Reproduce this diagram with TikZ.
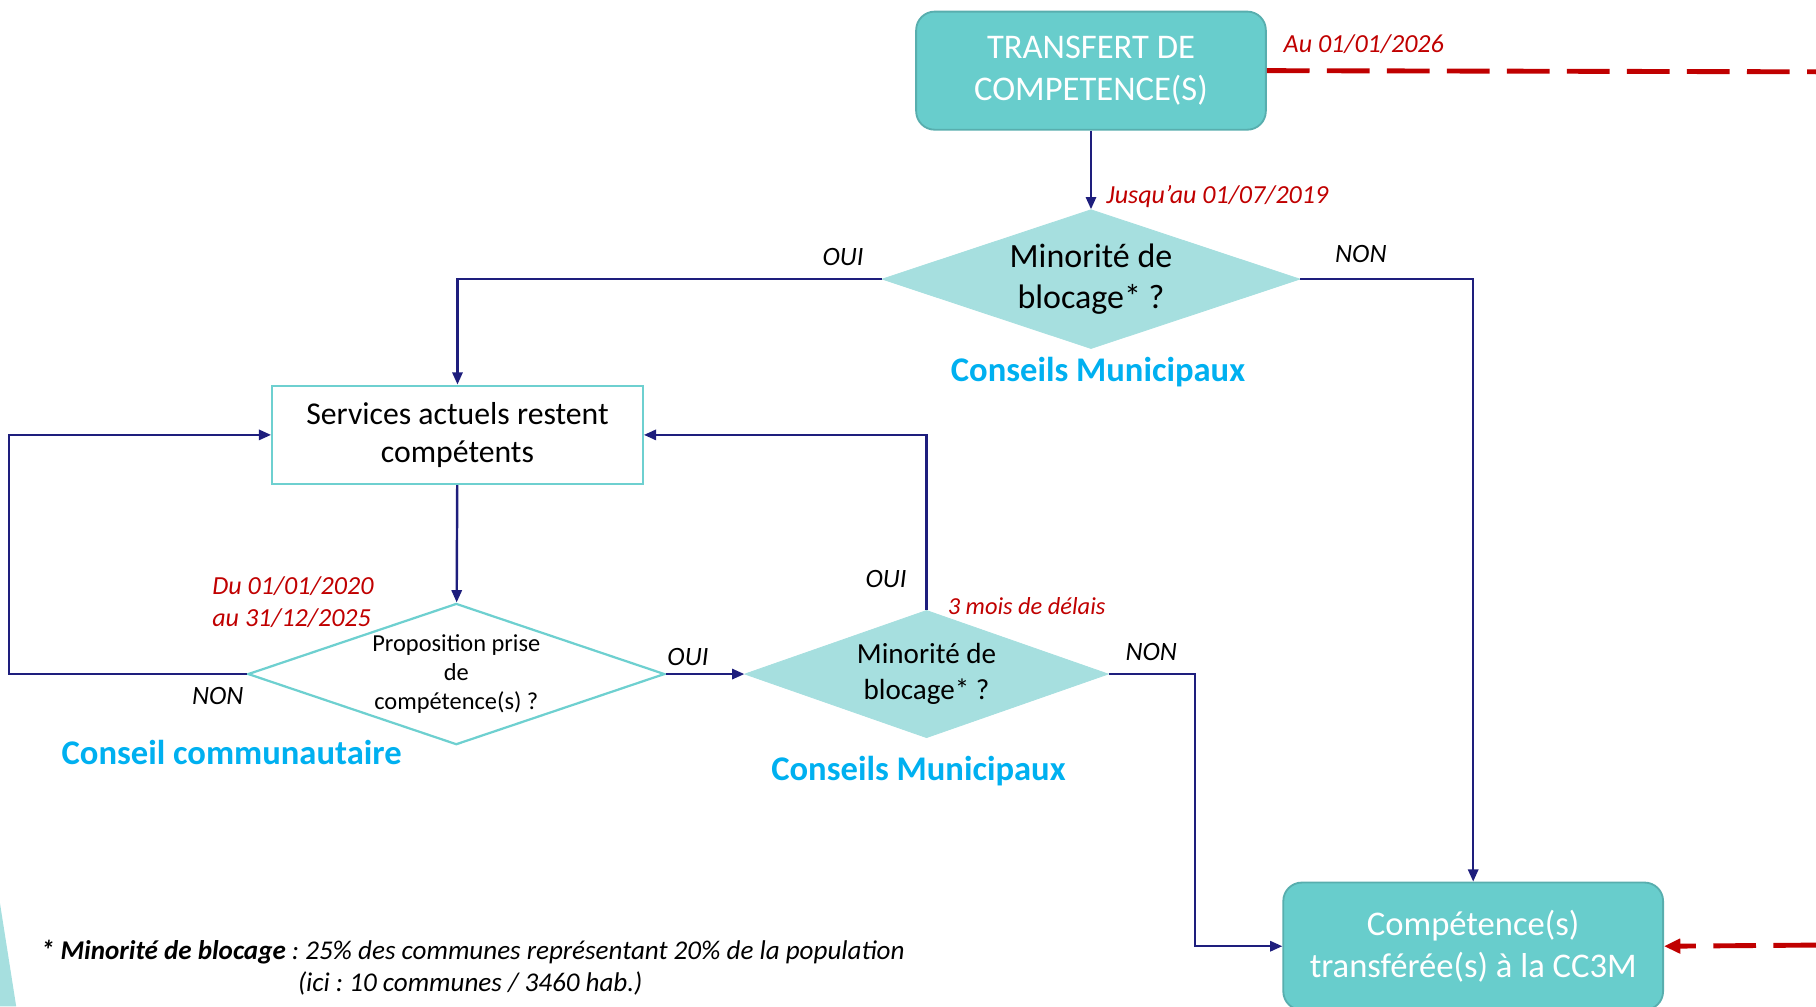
\documentclass[tikz,border=0pt]{standalone}
\usepackage{fontspec}
\setmainfont{Carlito}
\usetikzlibrary{shapes.geometric,arrows.meta}
\definecolor{boxteal}{RGB}{104,205,204}
\definecolor{boxedge}{RGB}{88,174,174}
\definecolor{diamteal}{RGB}{166,223,223}
\definecolor{edgeteal}{RGB}{110,208,208}
\definecolor{flowblue}{RGB}{30,30,125}
\definecolor{datered}{RGB}{192,0,0}
\definecolor{councilcyan}{RGB}{0,176,240}
\tikzset{
  bigbox/.style={draw=boxedge, line width=0.9pt, fill=boxteal, rounded corners=0.32cm,
    text=white, align=center, font=\fontsize{17}{20.5}\selectfont, inner sep=0pt},
  question/.style={diamond, draw=diamteal, fill=diamteal, inner sep=-3pt, align=center},
  whitebox/.style={draw=edgeteal, line width=1.1pt, fill=white, align=center, inner sep=0pt,
    font=\fontsize{15.6}{18.5}\selectfont},
  flow/.style={draw=flowblue, line width=1.2pt, -{Triangle[length=6pt,width=5pt]}},
  deadline/.style={draw=datered, line width=2.4pt, dash pattern=on 21pt off 8.5pt},
  answer/.style={font=\fontsize{13}{15}\selectfont\itshape},
  datelabel/.style={text=datered, font=\fontsize{12.8}{16}\selectfont\itshape, inner sep=0pt},
  council/.style={text=councilcyan, font=\fontsize{17}{20}\selectfont\bfseries, inner sep=0pt}
}
\newcommand{\answer}[4]{\node[answer] (#1) at (#2,#3) {#4};}
\newcommand{\council}[4]{\node[council] (#1) at (#2,#3) {#4};}

\begin{document}
\frenchspacing
\begin{tikzpicture}[x=0.02cm,y=-0.02cm]
    \clip (0,0) rectangle (1568,869);
    \useasboundingbox (0,0) rectangle (1568,869);
    \fill[diamteal] (0,780) -- (14,869) -- (0,869) -- cycle;

    \node[bigbox, minimum width=6.04cm, minimum height=2.04cm] (transfert) at (942,61) {TRANSFERT DE\\COMPETENCE(S)};
    \node[bigbox, minimum width=6.56cm, minimum height=2.2cm] (transferee) at (1272,817) {Compétence(s)\\transférée(s) à la CC3M};
    \node[question, aspect=3, minimum width=7.22cm, minimum height=2.4cm, font=\fontsize{16.7}{20}\selectfont] (blocage1) at (942,241) {Minorité de\\blocage* ?};
    \node[whitebox, minimum width=6.4cm, minimum height=1.7cm] (services) at (395,375.5) {Services actuels restent\\compétents};
    \node[question, aspect=2.95, fill=white, draw=edgeteal, line width=1.1pt, minimum width=7.2cm, minimum height=2.44cm,
      font=\fontsize{12}{14.2}\selectfont] (proposition) at (394,582) {Proposition prise\\de\\compétence(s) ?};
    \node[question, aspect=2.85, minimum width=6.28cm, minimum height=2.2cm, font=\fontsize{14.3}{17.5}\selectfont] (blocage2) at (800,582) {Minorité de\\blocage* ?};

    \coordinate (edgetop) at (1568,62);
    \coordinate (edgebottom) at (1568,816);
    \coordinate (loopleft) at (8,582);
    \coordinate (loopright) at (1032,582);

    % connectors
    \draw[flow] (transfert) -- (blocage1);
    \draw[flow] (blocage1.west) -| (services.north);
    \draw[flow] (blocage1.east) -| (transferee.north);
    \draw[flow] (services) -- (proposition);
    \draw[flow] (proposition.west) -- (loopleft) |- (services.west);
    \draw[flow] (proposition.east) -- (blocage2.west);
    \draw[flow] (blocage2.north) |- (services.east);
    \draw[flow] (blocage2.east) -- (loopright) |- (transferee.west);
    \draw[deadline] (transfert.east) -- (edgetop);
    \draw[deadline, -{Triangle[length=8pt,width=7pt]}] (edgebottom) -- (transferee.east);

    % labels
    \node[datelabel, anchor=west] (au2026) at (1108,38) {Au 01/01/2026};
    \node[datelabel, anchor=west] (jusqu) at (955,170) {Jusqu’au 01/07/2019};
    \node[datelabel, anchor=west, align=left] (periode) at (183,520) {Du 01/01/2020\\au 31/12/2025};
    \node[datelabel, anchor=west, font=\fontsize{12}{14}\selectfont\itshape] (delais) at (818,523) {3 mois de délais};
    \answer{oui1}{728}{222}{OUI}
    \answer{non1}{1175}{219}{NON}
    \answer{non2}{188}{601}{NON}
    \answer{oui2}{594}{567}{OUI}
    \answer{oui3}{765}{500}{OUI}
    \answer{non3}{994}{563}{NON}
    \council{cm1}{948}{321}{Conseils Municipaux}
    \council{cc}{200}{650}{Conseil communautaire}
    \council{cm2}{793}{666}{Conseils Municipaux}

    \node[anchor=west, inner sep=0pt, font=\fontsize{13.3}{15}\selectfont\itshape] (note1) at (35,822)
      {\textbf{* Minorité de blocage} : 25\% des communes représentant 20\% de la population};
    \node[inner sep=0pt, font=\fontsize{13.3}{15}\selectfont\itshape] (note2) at (406,849) {(ici : 10 communes / 3460 hab.)};
\end{tikzpicture}
\end{document}
